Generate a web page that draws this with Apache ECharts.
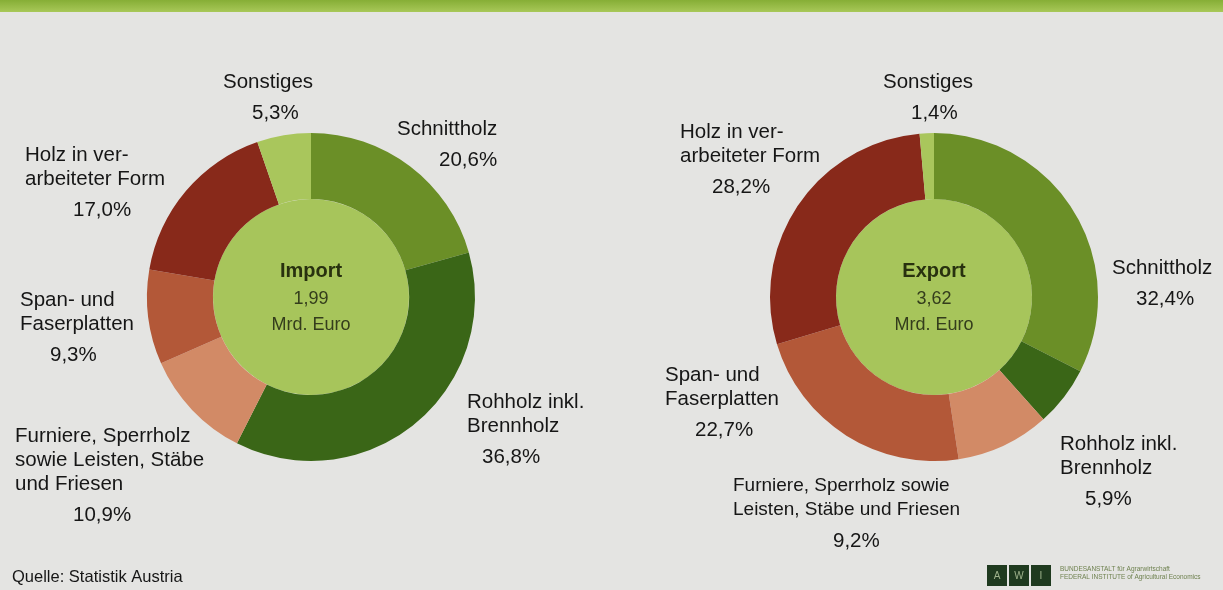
<!DOCTYPE html>
<html>
<head>
<meta charset="utf-8">
<script src="https://cdn.jsdelivr.net/npm/echarts@6/dist/echarts.min.js"></script>
<style>
  html, body { margin: 0; padding: 0; background: #e4e4e2; }
  #chart { width: 1223px; height: 590px; }
</style>
</head>
<body>
<div id="chart"></div>
<script>
// Holzhandel Österreich: Import / Export nach Warengruppen
const categories = ['Schnittholz', 'Rohholz inkl. Brennholz', 'Furniere, Sperrholz sowie Leisten, Stäbe und Friesen', 'Span- und Faserplatten', 'Holz in verarbeiteter Form', 'Sonstiges'];
const importShares = [20.6, 36.8, 10.9, 9.3, 17.0, 5.3];
const exportShares = [32.4, 5.9, 9.2, 22.7, 28.2, 1.4];
const importLabelLines = [['Schnittholz'], ['Rohholz inkl.', 'Brennholz'], ['Furniere, Sperrholz', 'sowie Leisten, Stäbe', 'und Friesen'], ['Span- und', 'Faserplatten'], ['Holz in ver-', 'arbeiteter Form'], ['Sonstiges']];
const exportLabelLines = [['Schnittholz'], ['Rohholz inkl.', 'Brennholz'], ['Furniere, Sperrholz sowie', 'Leisten, Stäbe und Friesen'], ['Span- und', 'Faserplatten'], ['Holz in ver-', 'arbeiteter Form'], ['Sonstiges']];
const centerTitles = ['Import', 'Export'];
const centerTotals = ['1,99', '3,62'];
const centerUnit = 'Mrd. Euro';
const sliceColors = ['#6b8f27', '#3a6617', '#d28a66', '#b35838', '#88291a', '#a9c65c'];

// where the labels sit (left edge, centre of first line, indent per line, font size)
const importLabelLayout = [
    {x: 397, y: 129, indent: [0, 42], size: 20.5},
    {x: 467, y: 402, indent: [0, 0, 15], size: 20.5},
    {x: 15, y: 436, indent: [0, 0, 0, 58], size: 20.5},
    {x: 20, y: 300, indent: [0, 0, 30], size: 20.5},
    {x: 25, y: 155, indent: [0, 0, 48], size: 20.5},
    {x: 223, y: 82, indent: [0, 29], size: 20.5}
];
const exportLabelLayout = [
    {x: 1112, y: 268, indent: [0, 24], size: 20.5},
    {x: 1060, y: 444, indent: [0, 0, 25], size: 20.5},
    {x: 733, y: 486, indent: [0, 0, 100], size: 19},
    {x: 665, y: 375, indent: [0, 0, 30], size: 20.5},
    {x: 680, y: 132, indent: [0, 0, 32], size: 20.5},
    {x: 883, y: 82, indent: [0, 28], size: 20.5}
];

function pct(v) {
    return v.toFixed(1).replace('.', ',') + '%'
}

function buildData(shares, lines, layout) {
    return shares.map(function (v, i) {
        const rows = lines[i].concat([pct(v)])
        const fs = layout[i].size
        const rich = {
            n: {fontSize: fs, lineHeight: 24, color: '#161616', fontFamily: 'Liberation Sans'},
            p: {fontSize: 20.5, lineHeight: 39, color: '#161616', fontFamily: 'Liberation Sans'}
        }
        const text = rows.map(function (r, k) {
            const isPct = k === rows.length - 1
            const ind = layout[i].indent[k] || 0
            let s = ''
            if (ind > 0) {
                rich['g' + k] = {width: ind, fontSize: 10}
                s += '{g' + k + '| }'
            }
            return s + '{' + (isPct ? 'p' : 'n') + '|' + r + '}'
        }).join('\n')
        return {
            name: categories[i],
            value: v,
            itemStyle: {color: sliceColors[i]},
            label: {formatter: text, rich: rich}
        }
    })
}

function donut(shares, lines, layout, center) {
    return {
        type: 'pie',
        center: center,
        radius: [98, 164],
        startAngle: 90,
        clockwise: true,
        silent: true,
        avoidLabelOverlap: false,
        label: {show: true, position: 'outside'},
        labelLine: {show: false},
        labelLayout: function (params) {
            const l = layout[params.dataIndex]
            return {x: l.x, y: l.y - 12, align: 'left', verticalAlign: 'top'}
        },
        data: buildData(shares, lines, layout)
    }
}

function hub(idx, center) {
    return {
        type: 'pie',
        center: center,
        radius: [0, 98],
        silent: true,
        label: {
            show: true,
            position: 'center',
            formatter: '{t|' + centerTitles[idx] + '}\n{v|' + centerTotals[idx] + '}\n{v|' + centerUnit + '}',
            rich: {
                t: {fontSize: 20, fontWeight: 'bold', lineHeight: 31, color: '#28310f', fontFamily: 'Liberation Sans'},
                v: {fontSize: 18, lineHeight: 26, color: '#343d1c', fontFamily: 'Liberation Sans'}
            }
        },
        labelLine: {show: false},
        data: [{name: centerTitles[idx], value: 1, itemStyle: {color: '#a7c55b'}}]
    }
}

const chart = echarts.init(document.getElementById('chart'))
const option = {
    backgroundColor: '#e4e4e2',
    animation: false,
    graphic: [
        {
            type: 'rect',
            shape: {x: 0, y: 0, width: 1223, height: 12},
            style: {
                fill: new echarts.graphic.LinearGradient(0, 0, 0, 1, [
                    {offset: 0, color: '#86ae36'},
                    {offset: 1, color: '#a8c858'}
                ])
            }
        },
        {
            type: 'text', left: 12, top: 569,
            style: {text: 'Quelle: Statistik Austria', font: '16.5px "Liberation Sans"', fill: '#161616'}
        },
        {type: 'rect', shape: {x: 987, y: 565, width: 20, height: 21}, style: {fill: '#1f3a1f'}},
        {type: 'rect', shape: {x: 1009, y: 565, width: 20, height: 21}, style: {fill: '#1f3a1f'}},
        {type: 'rect', shape: {x: 1031, y: 565, width: 20, height: 21}, style: {fill: '#1f3a1f'}},
        {type: 'text', x: 997, y: 576, style: {text: 'A', font: '10px "Liberation Sans"', fill: '#9fb38c', align: 'center', verticalAlign: 'middle'}},
        {type: 'text', x: 1019, y: 576, style: {text: 'W', font: '10px "Liberation Sans"', fill: '#9fb38c', align: 'center', verticalAlign: 'middle'}},
        {type: 'text', x: 1041, y: 576, style: {text: 'I', font: '10px "Liberation Sans"', fill: '#9fb38c', align: 'center', verticalAlign: 'middle'}},
        {type: 'text', x: 1060, y: 569, style: {text: 'BUNDESANSTALT für Agrarwirtschaft', font: '6.5px "Liberation Sans"', fill: '#6f8250', verticalAlign: 'middle'}},
        {type: 'text', x: 1060, y: 577, style: {text: 'FEDERAL INSTITUTE of Agricultural Economics', font: '6.5px "Liberation Sans"', fill: '#6f8250', verticalAlign: 'middle'}}
    ],
    series: [
        hub(0, [311, 297]),
        donut(importShares, importLabelLines, importLabelLayout, [311, 297]),
        hub(1, [934, 297]),
        donut(exportShares, exportLabelLines, exportLabelLayout, [934, 297])
    ]
}
chart.setOption(option)
</script>
</body>
</html>
